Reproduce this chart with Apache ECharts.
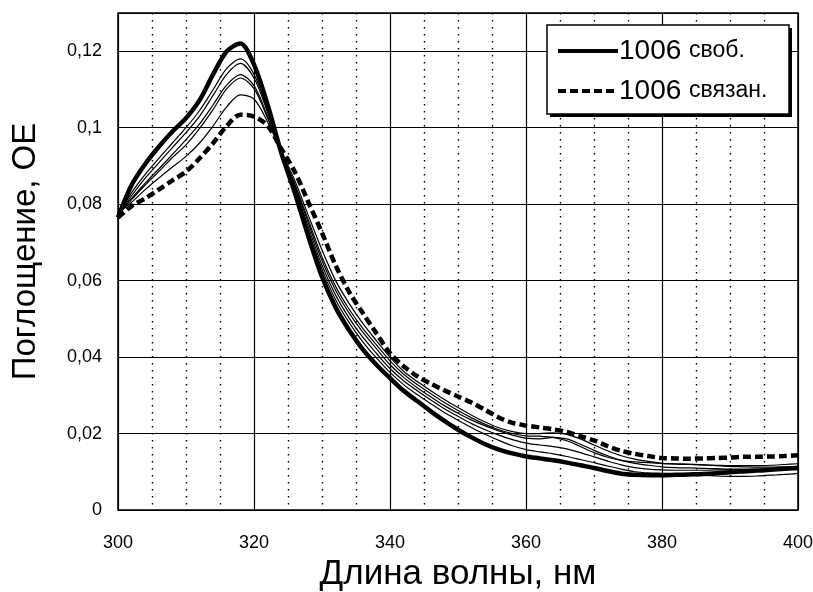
<!DOCTYPE html>
<html>
<head>
<meta charset="utf-8">
<script src="https://cdn.jsdelivr.net/npm/echarts@6/dist/echarts.min.js"></script>
<style>
  html, body { margin: 0; padding: 0; background: #fff; }
  #chart { width: 813px; height: 592px; }
</style>
</head>
<body>
<div id="chart"></div>
<script>
  // длины волн, нм (шаг 2 нм)
  const wavelengths = [300, 302, 304, 306, 308, 310, 312, 314, 316, 318, 320, 322, 324, 326, 328, 330,
    332, 334, 336, 338, 340, 342, 344, 346, 348, 350, 352, 354, 356, 358, 360, 362, 364, 366, 368, 370,
    372, 374, 376, 378, 380, 382, 384, 386, 388, 390, 392, 394, 396, 398, 400];

  // 1006 своб.
  const freeValues = [.0765, .0850, .0905, .0950, .0990, .1025, .1072, .1140, .1200, .1220, .1165, .1060, .0935, .0830, .0715, .0610,
    .0530, .0470, .0420, .0380, .0345, .0312, .0285, .0258, .0233, .0210, .0190, .0172, .0158, .0148, .0140, .0135, .0130, .0124, .0117, .0110,
    .0102, .0095, .0092, .0091, .0091, .0092, .0093, .0094, .0096, .0099, .0101, .0103, .0105, .0108, .0110];

  // 1006 связан.
  const boundValues = [.0765, .0795, .0815, .0838, .0862, .0885, .0920, .0960, .1005, .1034, .1029, .1005, .0945, .0885, .0805, .0725,
    .0640, .0570, .0515, .0462, .0410, .0376, .0350, .0330, .0313, .0297, .0281, .0262, .0242, .0228, .0221, .0216, .0211, .0204, .0193, .0182,
    .0167, .0155, .0147, .0141, .0136, .0135, .0134, .0135, .0136, .0137, .0139, .0139, .0140, .0141, .0143];

  // промежуточные спектры
  const mid1 = [.0768, .0830, .0878, .0920, .0960, .1000, .1045, .1100, .1155, .1180, .1140, .1045, .0935, .0840, .0730, .0630,
    .0550, .0490, .0440, .0398, .0360, .0328, .0302, .0278, .0255, .0235, .0215, .0198, .0182, .0168, .0158, .0152, .0147, .0140, .0132, .0124,
    .0115, .0107, .0100, .0097, .0096, .0095, .0093, .0091, .0089, .0088, .0088, .0089, .0091, .0093, .0096];
  const mid2 = [.0770, .0822, .0868, .0908, .0948, .0987, .1030, .1085, .1140, .1168, .1130, .1040, .0935, .0845, .0740, .0640,
    .0562, .0502, .0452, .0410, .0370, .0338, .0312, .0288, .0265, .0245, .0226, .0210, .0196, .0184, .0175, .0170, .0166, .0160, .0150, .0139,
    .0128, .0118, .0111, .0107, .0105, .0104, .0104, .0104, .0105, .0105, .0106, .0106, .0106, .0107, .0107];
  const mid3 = [.0772, .0815, .0855, .0892, .0930, .0969, .1010, .1060, .1112, .1139, .1110, .1030, .0935, .0850, .0750, .0652,
    .0575, .0515, .0465, .0422, .0380, .0347, .0320, .0296, .0273, .0253, .0235, .0220, .0207, .0196, .0188, .0186, .0190, .0186, .0172, .0156,
    .0142, .0130, .0122, .0117, .0113, .0111, .0110, .0109, .0108, .0107, .0107, .0107, .0108, .0110, .0113];
  const mid4 = [.0774, .0812, .0850, .0885, .0922, .0955, .0998, .1048, .1102, .1130, .1102, .1025, .0935, .0853, .0758, .0662,
    .0585, .0525, .0475, .0432, .0390, .0355, .0328, .0304, .0281, .0260, .0241, .0224, .0210, .0200, .0194, .0193, .0190, .0181, .0166, .0150,
    .0138, .0130, .0126, .0124, .0122, .0121, .0120, .0118, .0116, .0114, .0113, .0112, .0112, .0113, .0114];
  const mid5 = [.0776, .0805, .0838, .0868, .0897, .0925, .0960, .1005, .1055, .1086, .1075, .1015, .0938, .0862, .0770, .0680,
    .0600, .0540, .0488, .0443, .0400, .0363, .0336, .0312, .0289, .0268, .0248, .0230, .0215, .0205, .0200, .0200, .0202, .0198, .0186, .0170,
    .0155, .0142, .0133, .0127, .0122, .0120, .0119, .0118, .0117, .0116, .0116, .0116, .0117, .0119, .0121];

  const xTicks = [300, 320, 340, 360, 380, 400];
  const yTicks = [0, 0.02, 0.04, 0.06, 0.08, 0.1, 0.12];

  const pairs = vals => wavelengths.map((w, i) => [w, vals[i]]);

  const chart = echarts.init(document.getElementById('chart'));

  const thin = [mid1, mid2, mid3, mid4, mid5].map((vals, i) => ({
    name: 'mid' + (i + 1),
    type: 'line',
    data: pairs(vals),
    symbol: 'none',
    smooth: 0.3,
    lineStyle: {color: '#000', width: 1.2},
    z: 2,
    silent: true
  }));

  // рамка легенды с тенью
  const legendBox = {x: 547, y: 25, w: 242, h: 89};

  const option = {
    animation: false,
    backgroundColor: '#fff',
    textStyle: {fontFamily: 'Liberation Sans', color: '#000'},
    grid: {
      left: 118, right: 15, top: 13, bottom: 82,
      outerBoundsMode: 'none',
      show: true, borderColor: '#000', borderWidth: 1.5, backgroundColor: '#fff'
    },
    graphic: [{
      type: 'rect', z: 10,
      shape: {x: legendBox.x + 3, y: legendBox.y + 3, width: legendBox.w, height: legendBox.h},
      style: {fill: '#000'}
    }, {
      type: 'rect', z: 11,
      shape: {x: legendBox.x, y: legendBox.y, width: legendBox.w, height: legendBox.h},
      style: {fill: '#fff', stroke: '#000', lineWidth: 1.5}
    }],
    legend: {
      data: ['1006 своб.', '1006 связан.'],
      orient: 'vertical',
      left: legendBox.x + 3,
      top: legendBox.y + 8,
      padding: [4, 6, 4, 6],
      itemGap: 12,
      itemWidth: 60,
      itemHeight: 14,
      z: 12,
      selectedMode: false,
      itemStyle: {opacity: 0},
      lineStyle: {width: 4},
      formatter: name => {
        const [num, rest] = name.split(' ');
        return '{n|' + num + ' }{t|' + rest + '}';
      },
      textStyle: {
        color: '#000',
        padding: [0, 0, 0, -4],
        rich: {
          n: {fontFamily: 'Liberation Sans', fontSize: 28, color: '#000'},
          t: {fontFamily: 'Liberation Sans', fontSize: 23, color: '#000'}
        }
      }
    },
    xAxis: {
      type: 'value',
      min: 300, max: 400, interval: 20,
      axisLine: {show: false},
      axisTick: {show: false},
      axisLabel: {
        margin: 24, fontSize: 18, color: '#000', fontFamily: 'Liberation Sans',
        formatter: v => xTicks.includes(v) ? String(v) : ''
      },
      splitLine: {show: true, lineStyle: {color: '#000', width: 1.2}},
      minorTick: {show: false, splitNumber: 4},
      minorSplitLine: {show: true, lineStyle: {color: '#000', width: 1.4, type: [1.4, 5.6]}},
      name: 'Длина волны, нм',
      nameLocation: 'middle',
      nameGap: 45,
      nameTextStyle: {fontFamily: 'Liberation Sans', fontSize: 35, color: '#000'}
    },
    yAxis: {
      type: 'value',
      min: 0, max: 0.13, interval: 0.02,
      axisLine: {show: false},
      axisTick: {show: false},
      axisLabel: {
        margin: 16, fontSize: 18, color: '#000', fontFamily: 'Liberation Sans',
        showMaxLabel: false,
        formatter: v => {
          const r = Math.round(v * 100) / 100;
          return yTicks.includes(r) ? String(r).replace('.', ',') : '';
        }
      },
      splitLine: {show: true, lineStyle: {color: '#000', width: 1.2}},
      name: 'Поглощение, ОЕ',
      nameLocation: 'middle',
      nameGap: 76,
      nameTextStyle: {fontFamily: 'Liberation Sans', fontSize: 33, color: '#000', padding: [0, 0, 0, 20]}
    },
    series: thin.concat([{
      name: '1006 связан.',
      type: 'line',
      data: pairs(boundValues),
      symbol: 'none',
      smooth: 0.3,
      lineStyle: {color: '#000', width: 4.5, type: [8, 4]},
      itemStyle: {color: '#000'},
      z: 3
    }, {
      name: '1006 своб.',
      type: 'line',
      data: pairs(freeValues),
      symbol: 'none',
      smooth: 0.3,
      lineStyle: {color: '#000', width: 4.5},
      itemStyle: {color: '#000'},
      z: 4
    }])
  };

  chart.setOption(option);
</script>
</body>
</html>
